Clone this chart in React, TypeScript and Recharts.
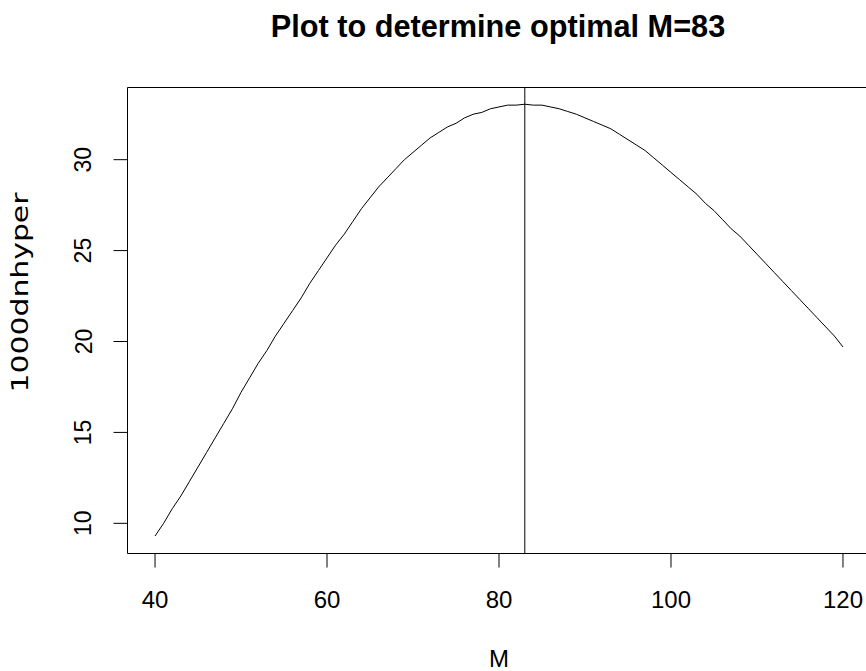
import React from "react";
import { LineChart, Line, XAxis, YAxis, ReferenceLine, ReferenceArea } from "recharts";

// population size M on the x axis
const mValues = [
  40, 41, 42, 43, 44, 45, 46, 47, 48, 49, 50, 51, 52, 53, 54, 55, 56, 57, 58, 59,
  60, 61, 62, 63, 64, 65, 66, 67, 68, 69, 70, 71, 72, 73, 74, 75, 76, 77, 78, 79,
  80, 81, 82, 83, 84, 85, 86, 87, 88, 89, 90, 91, 92, 93, 94, 95, 96, 97, 98, 99,
  100, 101, 102, 103, 104, 105, 106, 107, 108, 109, 110, 111, 112, 113, 114, 115, 116, 117, 118, 119,
  120,
];

// 1000 * dhyper
const dnhyper1000 = [
  9.3, 10.0, 10.8, 11.5, 12.3, 13.1, 13.9, 14.7, 15.5, 16.3,
  17.2, 18.0, 18.8, 19.5, 20.3, 21.0, 21.7, 22.4, 23.2, 23.9,
  24.6, 25.3, 25.9, 26.6, 27.3, 27.9, 28.5, 29.0, 29.5, 30.0,
  30.4, 30.8, 31.2, 31.5, 31.8, 32.0, 32.3, 32.5, 32.6, 32.8,
  32.9, 33.0, 33.0, 33.05, 33.0, 33.0, 32.9, 32.8, 32.65, 32.5,
  32.3, 32.1, 31.9, 31.7, 31.4, 31.1, 30.8, 30.5, 30.1, 29.7,
  29.3, 28.9, 28.5, 28.1, 27.6, 27.2, 26.7, 26.2, 25.8, 25.3,
  24.8, 24.3, 23.8, 23.3, 22.8, 22.3, 21.8, 21.3, 20.8, 20.3,
  19.7,
];

const xTicks = [40, 60, 80, 100, 120];
const yTicks = [10, 15, 20, 25, 30];
const optimalM = 83;

const xDomain = [36.8, 123.2];
const yDomain = [8.34, 33.97];

const font = "'Liberation Sans', Arial, Helvetica, sans-serif";

const data = mValues.map((m, i) => ({ M: m, value: dnhyper1000[i] }));

const XTick = (props: any) => {
  const { x, y, payload } = props;
  return (
    <text x={x} y={y + 38.5} textAnchor="middle" fontSize={24} fontFamily={font} fill="#000">
      {payload.value}
    </text>
  );
};

const YTick = (props: any) => {
  const { x, y, payload } = props;
  const tx = x - 20;
  return (
    <text
      x={tx}
      y={y}
      transform={`rotate(-90, ${tx}, ${y})`}
      textAnchor="middle"
      fontSize={23}
      fontFamily={font}
      fill="#000"
    >
      {payload.value}
    </text>
  );
};

export default function App() {
  return (
    <div
      style={{
        position: "absolute",
        left: 0,
        top: 0,
        width: 866,
        height: 671,
        overflow: "hidden",
        background: "#fff",
      }}
    >
      <LineChart width={880} height={671} data={data} margin={{ top: 87.5, right: 9.5, bottom: 57.5, left: 67.5 }}>
        <XAxis
          dataKey="M"
          type="number"
          domain={xDomain}
          ticks={xTicks}
          interval={0}
          allowDataOverflow
          axisLine={false}
          tickSize={14}
          tickLine={{ stroke: "#000" }}
          tick={<XTick />}
          height={60}
        />
        <YAxis
          type="number"
          domain={yDomain}
          ticks={yTicks}
          interval={0}
          allowDataOverflow
          axisLine={false}
          tickSize={14}
          tickLine={{ stroke: "#000" }}
          tick={<YTick />}
          width={60}
        />
        <ReferenceArea
          x1={xDomain[0]}
          x2={xDomain[1]}
          y1={yDomain[0]}
          y2={yDomain[1]}
          fill="#fff"
          fillOpacity={0}
          stroke="#000"
          strokeWidth={1}
        />
        <ReferenceLine x={optimalM} stroke="#000" strokeWidth={1} />
        <Line
          type="linear"
          dataKey="value"
          stroke="#000"
          strokeWidth={1}
          dot={false}
          isAnimationActive={false}
        />
      </LineChart>
      <svg
        width={866}
        height={671}
        style={{ position: "absolute", left: 0, top: 0, pointerEvents: "none" }}
      >
        <text x={498} y={37} textAnchor="middle" fontSize={30.7} fontWeight="bold" fontFamily={font} fill="#000">
          Plot to determine optimal M=83
        </text>
        <text x={499} y={667} textAnchor="middle" fontSize={24} fontFamily={font} fill="#000">
          M
        </text>
        <text
          x={28}
          y={292.5}
          transform="rotate(-90, 28, 292.5)"
          textAnchor="middle"
          textLength={200}
          lengthAdjust="spacingAndGlyphs"
          fontSize={23}
          fontFamily="'DejaVu Sans', sans-serif"
          fill="#000"
        >
          1000dnhyper
        </text>
      </svg>
    </div>
  );
}
